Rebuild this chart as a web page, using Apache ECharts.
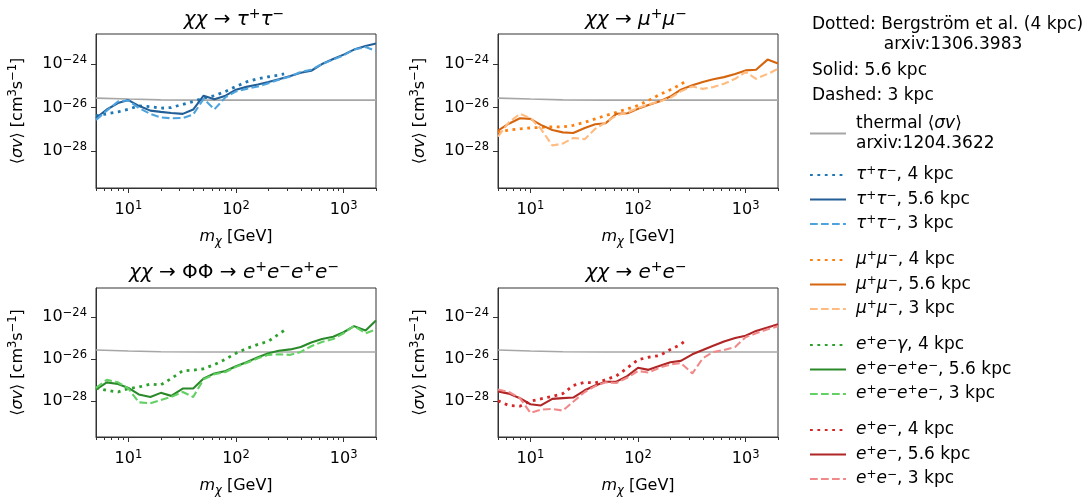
<!DOCTYPE html>
<html><head><meta charset="utf-8">
<script src="https://cdn.jsdelivr.net/npm/echarts@6/dist/echarts.min.js"></script>
<style>html,body{margin:0;padding:0;background:#fff}#c{width:1090px;height:498px}</style>
</head><body><div id="c"></div>
<script>
// ---------- data (m in GeV, <sigma v> in cm^3 s^-1) ----------
const mass = [5,6.3,8,10,12.5,16,20,25,32,40,50,63,80,100,125,160,200,250,320,400,500,630,800,1000,1250,1600,2000];
const massB = [5,6.3,8,10,12.5,16,20,25,32,40,50,63,80,100,125,160,200,250,280];
const massThermal = [5,10,20,50,100,300,1000,2000];
const thermal = [2.7e-26,2.45e-26,2.25e-26,2.2e-26,2.2e-26,2.2e-26,2.2e-26,2.2e-26];

const tauB = [4.2e-27,5.1e-27,6.3e-27,8.3e-27,1.2e-26,1.1e-26,9.3e-27,1.0e-26,1.4e-26,1.9e-26,2.7e-26,3.5e-26,5.5e-26,9.3e-26,1.5e-25,2.1e-25,2.6e-25,3.1e-25,3.5e-25];
const tauSolid = [3.3e-27,8.1e-27,1.6e-26,2.2e-26,1.2e-26,7.2e-27,6.3e-27,5.6e-27,5.1e-27,8.1e-27,3.5e-26,2.4e-26,3.5e-26,6.6e-26,8.9e-26,1.15e-25,1.5e-25,2.0e-25,2.8e-25,4.0e-25,4.9e-25,1.0e-24,1.7e-24,2.7e-24,4.6e-24,6.8e-24,8.7e-24];
const tauDashed = [2.7e-27,7.2e-27,1.9e-26,2.1e-26,9.5e-27,5.1e-27,3.5e-27,3.2e-27,3.3e-27,4.8e-27,2.5e-26,8.3e-27,3.0e-26,5.5e-26,7.2e-26,9.3e-26,1.3e-25,1.9e-25,2.7e-25,4.3e-25,5.5e-25,1.0e-24,1.6e-24,2.5e-24,4.6e-24,6.0e-24,4.0e-24];

const muB = [7.2e-28,9.3e-28,1.05e-27,1.15e-27,1.23e-27,1.3e-27,1.3e-27,1.5e-27,2.1e-27,3.0e-27,4.3e-27,6.0e-27,8.7e-27,1.23e-26,2.1e-26,4.0e-26,6.6e-26,1.15e-25,1.7e-25];
const muSolid = [8.7e-28,1.8e-27,3.2e-27,3.0e-27,1.6e-27,9.3e-28,7.2e-28,6.8e-28,1.15e-27,1.7e-27,1.9e-27,5.1e-27,5.5e-27,8.7e-27,1.3e-26,1.95e-26,3.2e-26,6.6e-26,1.05e-25,1.5e-25,2.0e-25,2.5e-25,3.5e-25,5.1e-25,5.5e-25,1.6e-24,1.05e-24];
const muDashed = [4.6e-28,2.1e-27,5.1e-27,3.3e-27,1.05e-27,1.8e-28,2.2e-28,4.0e-28,3.5e-28,1.05e-27,2.1e-27,4.3e-27,6.0e-27,9.5e-27,1.4e-26,1.95e-26,2.8e-26,5.6e-26,9.3e-26,7.2e-26,8.7e-26,1.23e-25,2.1e-25,4.3e-25,2.1e-25,3.5e-25,6.0e-25];

const eegB = [4.3e-28,3.3e-28,2.75e-28,4.0e-28,4.7e-28,6.5e-28,6.0e-28,1.2e-27,2.8e-27,3.0e-27,3.5e-27,5.5e-27,1.0e-26,1.9e-26,3.2e-26,5.0e-26,7.1e-26,1.55e-25,2.3e-25];
const eeeeSolid = [3.6e-28,7.9e-28,6.6e-28,4.3e-28,2.1e-28,1.6e-28,2.5e-28,1.8e-28,4.0e-28,4.0e-28,1.2e-27,2.1e-27,2.75e-27,4.6e-27,7.2e-27,1.23e-26,1.9e-26,2.5e-26,2.9e-26,3.8e-26,6.2e-26,9.1e-26,1.17e-25,1.9e-25,3.7e-25,2.3e-25,6.8e-25];
const eeeeDashed = [4.3e-28,1.05e-27,7.9e-28,4.0e-28,8.9e-29,8.1e-29,1.15e-28,1.6e-28,2.75e-28,1.6e-28,1.1e-27,1.9e-27,2.45e-27,4.3e-27,6.6e-27,1.1e-26,1.6e-26,1.7e-26,1.6e-26,2.2e-26,4.1e-26,6.5e-26,9.1e-26,1.7e-25,3.7e-25,1.7e-25,2.6e-25];

const eeB = [1.05e-28,6.3e-29,5.8e-29,1.0e-28,1.3e-28,1.7e-28,2.3e-28,5.6e-28,7.9e-28,7.4e-28,1.05e-27,1.6e-27,3.9e-27,9.3e-27,1.23e-26,1.5e-26,2.9e-26,5.0e-26,8.3e-26];
const eeSolid = [2.95e-28,2.3e-28,1.4e-28,7.2e-29,6.3e-29,1.3e-28,1.4e-28,1.5e-28,3.3e-28,5.6e-28,8.5e-28,8.5e-28,1.6e-27,3.9e-27,3.1e-27,4.9e-27,7.1e-27,8.3e-27,1.7e-26,2.7e-26,4.3e-26,6.9e-26,1.0e-25,1.3e-25,2.2e-25,3.2e-25,4.5e-25];
const eeDashed = [3.6e-28,2.75e-28,1.4e-28,2.8e-29,4.0e-29,4.3e-29,3.6e-29,9.5e-29,2.75e-28,5.2e-28,7.9e-28,7.4e-28,1.35e-27,2.75e-27,2.3e-27,4.0e-27,5.5e-27,6.6e-27,2.1e-27,1.1e-26,2.2e-26,2.7e-26,3.8e-26,1.1e-25,1.7e-25,2.6e-25,3.7e-25];

// ---------- axes / ticks ----------
const xRange = [5, 2000];
const xMajorTicks = [10,100,1000];
const xMinorTicks = [5,6,7,8,9,20,30,40,50,60,70,80,90,200,300,400,500,600,700,800,900,2000];
const yRange = [2e-30, 2.4e-23];          // y axis is drawn in decades (log10 of <sigma v>)
const yMajorDecades = [-28,-26,-24];

// ---------- styling ----------
const FONT = 'DejaVu Sans';
const panels = [
  {title:'{i|χχ}{n| → }{i|τ}{s|+}{i|τ}{s|−}', cx:234, cy:20,
   names:['τ⁺τ⁻, 4 kpc','τ⁺τ⁻, 5.6 kpc','τ⁺τ⁻, 3 kpc'], data:[tauB,tauSolid,tauDashed],
   colors:['#1f77b4','#235f96','#4ea3de']},
  {title:'{i|χχ}{n| → }{i|μ}{s|+}{i|μ}{s|−}', cx:636, cy:20,
   names:['μ⁺μ⁻, 4 kpc','μ⁺μ⁻, 5.6 kpc','μ⁺μ⁻, 3 kpc'], data:[muB,muSolid,muDashed],
   colors:['#ff7f0e','#d5660f','#ffbb80']},
  {title:'{i|χχ}{n| → ΦΦ → }{i|e}{s|+}{i|e}{s|−}{i|e}{s|+}{i|e}{s|−}', cx:234, cy:273,
   names:['e⁺e⁻γ, 4 kpc','e⁺e⁻e⁺e⁻, 5.6 kpc','e⁺e⁻e⁺e⁻, 3 kpc'], data:[eegB,eeeeSolid,eeeeDashed],
   colors:['#2ca02c','#2a8a2a','#62d062']},
  {title:'{i|χχ}{n| → }{i|e}{s|+}{i|e}{s|−}', cx:636, cy:273,
   names:['e⁺e⁻, 4 kpc','e⁺e⁻, 5.6 kpc','e⁺e⁻, 3 kpc'], data:[eeB,eeSolid,eeDashed],
   colors:['#d62728','#b02525','#f08a8a']}
];
const gridRects = [
  {left:96, top:34, width:280, height:154},
  {left:498, top:34, width:280, height:154},
  {left:96, top:288, width:280, height:153},
  {left:498, top:288, width:280, height:153}
];
const legendLabels = {
  'thermal':'{n|thermal ⟨}{i|σv}{n|⟩}\n{n|arxiv:1204.3622}',
  'τ⁺τ⁻, 4 kpc':'{i|τ}{s|+}{i|τ}{s|−}{n|, 4 kpc}',
  'τ⁺τ⁻, 5.6 kpc':'{i|τ}{s|+}{i|τ}{s|−}{n|, 5.6 kpc}',
  'τ⁺τ⁻, 3 kpc':'{i|τ}{s|+}{i|τ}{s|−}{n|, 3 kpc}',
  'μ⁺μ⁻, 4 kpc':'{i|μ}{s|+}{i|μ}{s|−}{n|, 4 kpc}',
  'μ⁺μ⁻, 5.6 kpc':'{i|μ}{s|+}{i|μ}{s|−}{n|, 5.6 kpc}',
  'μ⁺μ⁻, 3 kpc':'{i|μ}{s|+}{i|μ}{s|−}{n|, 3 kpc}',
  'e⁺e⁻γ, 4 kpc':'{i|e}{s|+}{i|e}{s|−}{i|γ}{n|, 4 kpc}',
  'e⁺e⁻e⁺e⁻, 5.6 kpc':'{i|e}{s|+}{i|e}{s|−}{i|e}{s|+}{i|e}{s|−}{n|, 5.6 kpc}',
  'e⁺e⁻e⁺e⁻, 3 kpc':'{i|e}{s|+}{i|e}{s|−}{i|e}{s|+}{i|e}{s|−}{n|, 3 kpc}',
  'e⁺e⁻, 4 kpc':'{i|e}{s|+}{i|e}{s|−}{n|, 4 kpc}',
  'e⁺e⁻, 5.6 kpc':'{i|e}{s|+}{i|e}{s|−}{n|, 5.6 kpc}',
  'e⁺e⁻, 3 kpc':'{i|e}{s|+}{i|e}{s|−}{n|, 3 kpc}'
};

const tickRich = {
  b:{fontSize:16, fontFamily:FONT, color:'#000', lineHeight:20},
  s:{fontSize:11.5, fontFamily:FONT, color:'#000', lineHeight:11, verticalAlign:'top'}
};
const nameRich = {
  n:{fontSize:16, fontFamily:FONT, color:'#000', lineHeight:22},
  i:{fontSize:16, fontFamily:FONT, fontStyle:'italic', color:'#000', lineHeight:22},
  s:{fontSize:11.5, fontFamily:FONT, color:'#000', lineHeight:11, verticalAlign:'top'},
  sub:{fontSize:11.5, fontFamily:FONT, fontStyle:'italic', color:'#000', lineHeight:11, verticalAlign:'bottom'}
};
const titleRich = {
  n:{fontSize:20, fontFamily:FONT, fontWeight:'normal', color:'#000', lineHeight:26},
  i:{fontSize:20, fontFamily:FONT, fontWeight:'normal', fontStyle:'italic', color:'#000', lineHeight:26},
  s:{fontSize:14, fontFamily:FONT, fontWeight:'normal', color:'#000', lineHeight:14, verticalAlign:'top'}
};
const legendRich = {
  n:{fontSize:17, fontFamily:FONT, color:'#000', lineHeight:20},
  i:{fontSize:17, fontFamily:FONT, fontStyle:'italic', color:'#000', lineHeight:20},
  s:{fontSize:12, fontFamily:FONT, color:'#000', lineHeight:11, verticalAlign:'top'}
};
const AX = '#333';
const zipLog = (xs, ys) => xs.map((x, i) => [x, Math.log10(ys[i])]);
const DOT = [2.8, 4.6], DASH = [7.7, 3.3];

const grid = [], xAxis = [], yAxis = [], series = [], title = [];
panels.forEach((p, k) => {
  grid.push(Object.assign({show:true, borderColor:AX, borderWidth:1, containLabel:false}, gridRects[k]));
  title.push({text:p.title, left:p.cx, top:p.cy, textAlign:'center', textVerticalAlign:'middle', padding:0,
              textStyle:{fontWeight:'normal', rich:titleRich}});
  xAxis.push({type:'log', logBase:10, gridIndex:k, min:xRange[0], max:xRange[1], position:'bottom',
    axisLine:{show:true, onZero:false, lineStyle:{color:AX, width:1}},
    axisTick:{show:true, customValues:xMajorTicks, length:5, lineStyle:{color:AX, width:1}},
    axisLabel:{show:true, customValues:xMajorTicks, margin:12,
      formatter: v => '{b|10}{s|' + Math.round(Math.log10(v)) + '}', rich:tickRich},
    splitLine:{show:false}, minorTick:{show:false},
    name:'{i|m}{sub|χ}{n| [GeV]}', nameLocation:'middle', nameGap:38,
    nameTextStyle:{rich:nameRich}});
  xAxis.push({type:'log', logBase:10, gridIndex:k, min:xRange[0], max:xRange[1], position:'bottom',
    axisLine:{show:false, onZero:false},
    axisTick:{show:true, customValues:xMinorTicks, length:3, lineStyle:{color:AX, width:1}},
    axisLabel:{show:false}, splitLine:{show:false}});
  yAxis.push({type:'value', gridIndex:k, min:Math.log10(yRange[0]), max:Math.log10(yRange[1]),
    axisLine:{show:true, onZero:false, lineStyle:{color:AX, width:1}},
    axisTick:{show:true, customValues:yMajorDecades, length:5, lineStyle:{color:AX, width:1}},
    axisLabel:{show:true, customValues:yMajorDecades, margin:9,
      formatter: v => '{b|10}{s|−' + Math.abs(Math.round(v)) + '}', rich:tickRich},
    splitLine:{show:false},
    name:'{n|⟨}{i|σv}{n|⟩ [cm}{s|3}{n|s}{s|−1}{n|]}', nameLocation:'middle', nameGap:67, nameRotate:90,
    nameTextStyle:{rich:nameRich}});
  series.push({type:'line', name:'thermal', xAxisIndex:2*k, yAxisIndex:k, data:zipLog(massThermal, thermal),
    symbol:'none', lineStyle:{color:'#a6a6a6', width:1.6}, itemStyle:{color:'#a6a6a6'}, z:2});
  const xsets = [massB, mass, mass];
  const styles = [{width:2.8, type:DOT}, {width:2.1, type:'solid'}, {width:2.1, type:DASH}];
  for (let j = 0; j < 3; j++) {
    series.push({type:'line', name:p.names[j], xAxisIndex:2*k, yAxisIndex:k,
      data:zipLog(xsets[j], p.data[j]), symbol:'none',
      lineStyle:Object.assign({color:p.colors[j]}, styles[j]), itemStyle:{color:p.colors[j]}, z:3+j});
  }
});

const legendBase = {orient:'vertical', left:809, itemWidth:36, itemHeight:14, itemGap:6, padding:0,
  selectedMode:false, itemStyle:{opacity:0},
  textStyle:{rich:legendRich, padding:[0,0,0,5]}, formatter: n => legendLabels[n]};
const legend = [
  Object.assign({}, legendBase, {top:115, data:['thermal']}),
  Object.assign({}, legendBase, {top:165, data:panels[0].names}),
  Object.assign({}, legendBase, {top:250, data:panels[1].names}),
  Object.assign({}, legendBase, {top:335, data:panels[2].names}),
  Object.assign({}, legendBase, {top:420, data:panels[3].names})
];

const txt = (text, x, y, align) => ({type:'text', x:x, y:y,
  style:{text:text, fontSize:17, fontFamily:FONT, fill:'#000', align:align||'left', verticalAlign:'middle'}});
const graphic = [
  txt('Dotted: Bergström et al. (4 kpc)', 812, 25),
  txt('arxiv:1306.3983', 953, 45, 'center'),
  txt('Solid: 5.6 kpc', 812, 71),
  txt('Dashed: 3 kpc', 812, 96)
];

const chart = echarts.init(document.getElementById('c'), null, {renderer:'canvas'});
chart.setOption({animation:false, backgroundColor:'#fff', title, grid, xAxis, yAxis, series, legend, graphic});
</script></body></html>
